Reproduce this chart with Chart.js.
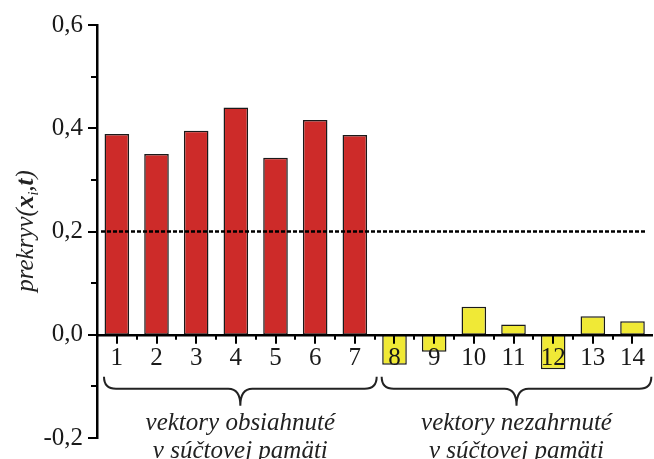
<!DOCTYPE html>
<html>
<head>
<meta charset="utf-8">
<script src="https://cdn.jsdelivr.net/npm/chart.js@4"></script>
<style>
  html, body { margin: 0; padding: 0; background: #fff; }
  #wrap { width: 654px; height: 459px; position: relative; }
</style>
</head>
<body>
<div id="wrap"><canvas id="BarChart"></canvas></div>
<script>
// data block
const categories = ['1', '2', '3', '4', '5', '6', '7', '8', '9', '10', '11', '12', '13', '14'];
const overlapValues = [0.389, 0.350, 0.395, 0.440, 0.343, 0.416, 0.387,
                       -0.058, -0.033, 0.054, 0.020, -0.067, 0.036, 0.026];
const storedCount = 7; // first 7 vectors are stored in memory
const threshold = 0.2;
const yTicksMin = -0.2;
const yTicksMax = 0.6;
const groupFirst = [0, 7];
const groupLast = [6, 13];
const groupLabels = [
    ['vektory obsiahnuté', 'v súčtovej pamäti'],
    ['vektory nezahrnuté', 'v súčtovej pamäti']
];

const serif = '"Liberation Serif", "Times New Roman", serif';
const chartCanvas = document.getElementById('BarChart');

// tick marks, dotted threshold line, braces and y title
const decorPlugin = {
    id: 'decor',
    afterDraw(chart) {
        const ctx = chart.ctx;
        const xs = chart.scales.x;
        const ys = chart.scales.y;
        const area = chart.chartArea;
        const y0 = ys.getPixelForValue(0);
        ctx.save();
        ctx.strokeStyle = '#000';
        ctx.lineWidth = 2;

        // y tick marks
        ys.ticks.forEach(t => {
            const py = Math.round(ys.getPixelForValue(t.value));
            const major = Math.round(t.value * 10) % 2 === 0;
            ctx.beginPath();
            ctx.moveTo(area.left, py);
            ctx.lineTo(area.left - (major ? 9 : 6), py);
            ctx.stroke();
        });

        // x tick marks
        for (let i = 0; i < categories.length; i++) {
            const px = Math.round(xs.getPixelForValue(i));
            ctx.beginPath();
            ctx.moveTo(px, y0);
            ctx.lineTo(px, y0 + 9);
            ctx.stroke();
            if (i < categories.length - 1) {
                const mx = Math.round((xs.getPixelForValue(i) + xs.getPixelForValue(i + 1)) / 2);
                ctx.beginPath();
                ctx.moveTo(mx, y0);
                ctx.lineTo(mx, y0 + 5);
                ctx.stroke();
            }
        }

        // dotted threshold line
        const ty = ys.getPixelForValue(threshold);
        ctx.setLineDash([4, 2]);
        ctx.lineWidth = 2.5;
        ctx.beginPath();
        ctx.moveTo(area.left + 4, ty);
        ctx.lineTo(area.right - 6, ty);
        ctx.stroke();
        ctx.setLineDash([]);

        // braces + group labels
        const half = (xs.getPixelForValue(1) - xs.getPixelForValue(0)) / 2;
        ctx.lineWidth = 2;
        ctx.strokeStyle = '#222';
        for (let g = 0; g < groupFirst.length; g++) {
            const x1 = xs.getPixelForValue(groupFirst[g]) - half + 7;
            const x2 = Math.min(xs.getPixelForValue(groupLast[g]) + half + 2, area.right - 1);
            const mid = (x1 + x2) / 2;
            const top = y0 + 42, line = y0 + 54, cusp = y0 + 71, r = 12;
            ctx.beginPath();
            ctx.moveTo(x1, top);
            ctx.quadraticCurveTo(x1, line, x1 + r, line);
            ctx.lineTo(mid - r, line);
            ctx.quadraticCurveTo(mid, line, mid, cusp);
            ctx.quadraticCurveTo(mid, line, mid + r, line);
            ctx.lineTo(x2 - r, line);
            ctx.quadraticCurveTo(x2, line, x2, top);
            ctx.stroke();

            ctx.fillStyle = '#222';
            ctx.font = 'italic 25px ' + serif;
            ctx.textAlign = 'center';
            ctx.textBaseline = 'alphabetic';
            ctx.fillText(groupLabels[g][0], mid, y0 + 95);
            ctx.fillText(groupLabels[g][1], mid, y0 + 123);
        }

        // y axis title: prekryv(x_i, t)
        const parts = [
            { t: 'prekryv(', f: 'italic 25px ' + serif, dy: 0 },
            { t: 'x', f: 'italic bold 25px ' + serif, dy: 0 },
            { t: 'i', f: 'italic 14px ' + serif, dy: 5 },
            { t: ',', f: 'italic 25px ' + serif, dy: 0 },
            { t: 't', f: 'italic bold 25px ' + serif, dy: 0 },
            { t: ')', f: 'italic 25px ' + serif, dy: 0 }
        ];
        let total = 0;
        parts.forEach(p => { ctx.font = p.f; p.w = ctx.measureText(p.t).width; total += p.w; });
        ctx.translate(33, 231);
        ctx.rotate(-Math.PI / 2);
        ctx.textAlign = 'left';
        let cx = -total / 2;
        parts.forEach(p => {
            ctx.font = p.f;
            ctx.fillText(p.t, cx, p.dy);
            cx += p.w;
        });
        ctx.restore();
    }
};

// setup block
const data = {
    labels: categories,
    datasets: [{
        data: overlapValues,
        backgroundColor: ctx => ctx.dataIndex < storedCount ? '#CD2B29' : '#F0E936',
        borderColor: '#1a1a1a',
        borderWidth: 1.5,
        borderSkipped: false,
        barPercentage: 0.62,
        categoryPercentage: 1
    }]
};

// config block
const config = {
    type: 'bar',
    data,
    options: {
        responsive: true,
        maintainAspectRatio: false,
        animation: false,
        layout: {
            padding: { top: 25, right: 0, bottom: 21, left: 0 }
        },
        scales: {
            x: {
                position: { y: 0 },
                offset: true,
                grid: { display: false, drawTicks: false },
                border: { color: '#000', width: 2.5, z: 1 },
                ticks: {
                    z: 1,
                    padding: 9,
                    color: '#1a1a1a',
                    font: { family: serif, size: 25 },
                    maxRotation: 0,
                    autoSkip: false
                }
            },
            y: {
                min: yTicksMin,
                max: yTicksMax,
                afterFit: scale => {
                    scale.width = 97;
                    scale.paddingTop = 0;
                    scale.paddingBottom = 0;
                },
                grid: { display: false, drawTicks: false },
                border: { color: '#000', width: 2.5 },
                ticks: {
                    stepSize: 0.1,
                    padding: 14,
                    color: '#1a1a1a',
                    font: { family: serif, size: 25 },
                    callback: v => Math.round(v * 10) % 2 === 0 ? v.toFixed(1).replace('.', ',') : ''
                }
            }
        },
        plugins: {
            legend: { display: false },
            tooltip: { enabled: false }
        }
    },
    plugins: [decorPlugin]
};

// render init block
const barChart = new Chart(chartCanvas, config);
</script>
</body>
</html>
